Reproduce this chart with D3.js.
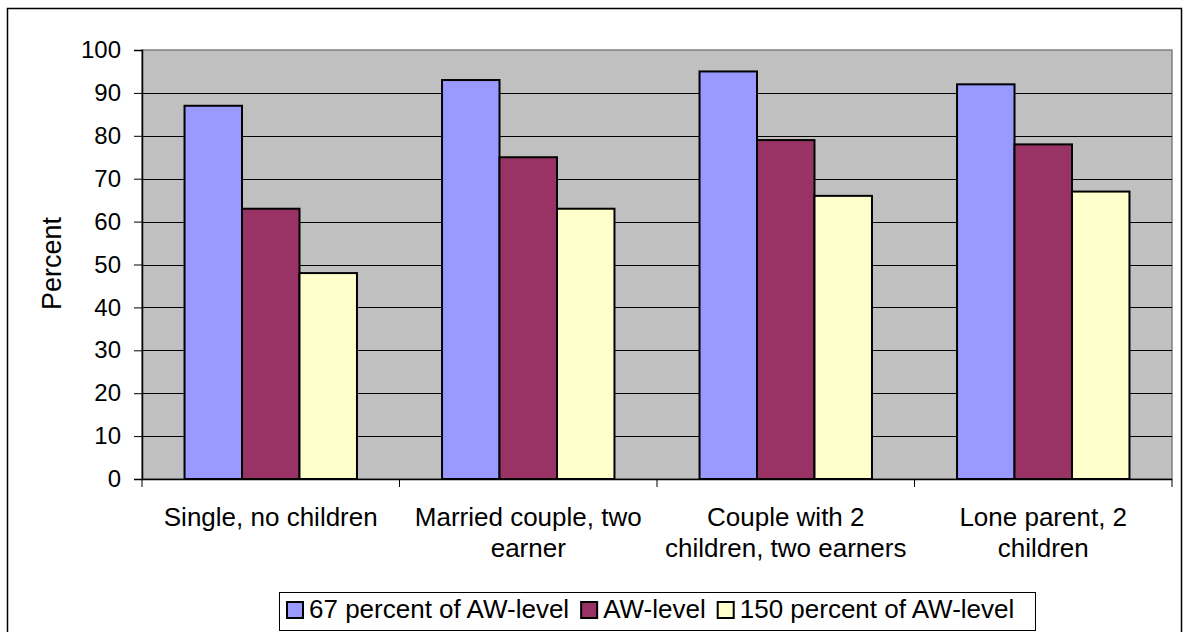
<!DOCTYPE html>
<html>
<head>
<meta charset="utf-8">
<script src="https://cdn.jsdelivr.net/npm/d3@7"></script>
<style>
  body { margin: 0; background: #fff; }
  text { font-family: "Liberation Sans", Arial, sans-serif; fill: #000; }
</style>
</head>
<body>
<div id="chart"></div>
<script>
// data
const categories = [
  ["Single, no children"],
  ["Married couple, two", "earner"],
  ["Couple with 2", "children, two earners"],
  ["Lone parent, 2", "children"]
];
const seriesNames = ["67 percent of AW-level", "AW-level", "150 percent of AW-level"];
const seriesColors = ["#9999ff", "#993366", "#ffffcc"];
const low = [87, 93, 95, 92];
const mid = [63, 75, 79, 78];
const high = [48, 63, 66, 67];
const yTicks = [0, 10, 20, 30, 40, 50, 60, 70, 80, 90, 100];

const W = 1183, H = 632;
const plot = {left: 142, top: 50, right: 1172, bottom: 479};
const font = '"Liberation Sans", Arial, sans-serif';

const svg = d3.select('#chart').append('svg')
  .attr('width', W).attr('height', H);

// outer chart border
svg.append('rect')
  .attr('x', 7.5).attr('y', 8.5)
  .attr('width', W - 9).attr('height', H + 10)
  .attr('fill', '#fff').attr('stroke', '#000').attr('stroke-width', 1.5);

const idx = d3.range(categories.length);
const x0 = d3.scaleBand().domain(idx).range([plot.left, plot.right]).padding(0);
const y = d3.scaleLinear().domain([0, 100]).range([plot.bottom, plot.top]);

// inner bars: gap of ~148% of bar width split across both sides
const barW = x0.bandwidth() / (3 + 1.48);
const x1 = d3.scaleBand().domain([0, 1, 2])
  .range([0, barW * 3]);

// plot area
svg.append('rect')
  .attr('x', plot.left).attr('y', plot.top)
  .attr('width', plot.right - plot.left).attr('height', plot.bottom - plot.top)
  .attr('fill', '#c0c0c0').attr('stroke', '#808080').attr('stroke-width', 1.5);

// gridlines
svg.append('g').selectAll('line')
  .data(yTicks.filter(d => d > 0 && d < 100))
  .join('line')
  .attr('x1', plot.left).attr('x2', plot.right)
  .attr('y1', d => Math.round(y(d)) + 0.5).attr('y2', d => Math.round(y(d)) + 0.5)
  .attr('stroke', '#000').attr('stroke-width', 1);

// bars
const series = [low, mid, high];
const groups = svg.append('g').selectAll('g')
  .data(idx)
  .join('g')
  .attr('transform', i => `translate(${x0(i) + (x0.bandwidth() - barW * 3) / 2},0)`);

groups.selectAll('rect')
  .data(i => series.map((s, k) => ({k, v: s[i]})))
  .join('rect')
  .attr('x', d => x1(d.k))
  .attr('y', d => y(d.v))
  .attr('width', x1.bandwidth())
  .attr('height', d => y(0) - y(d.v))
  .attr('fill', d => seriesColors[d.k])
  .attr('stroke', '#000').attr('stroke-width', 2);

// y axis
const yAxis = d3.axisLeft(y).tickValues(yTicks).tickSize(8).tickPadding(13);
svg.append('g')
  .attr('transform', `translate(${plot.left},0)`)
  .call(yAxis)
  .call(g => g.select('.domain').attr('stroke', '#000').attr('stroke-width', 1.5))
  .call(g => g.selectAll('.tick line').attr('stroke', '#000'))
  .call(g => g.selectAll('.tick text').style('font-size', '24px')
    .style('font-family', font).attr('fill', '#000'));

// x axis: ticks at category boundaries
svg.append('line')
  .attr('x1', plot.left).attr('x2', plot.right)
  .attr('y1', plot.bottom + 0.5).attr('y2', plot.bottom + 0.5)
  .attr('stroke', '#000').attr('stroke-width', 1.5);
svg.append('g').selectAll('line')
  .data(idx.concat([categories.length]))
  .join('line')
  .attr('x1', i => i < categories.length ? x0(i) : plot.right)
  .attr('x2', i => i < categories.length ? x0(i) : plot.right)
  .attr('y1', plot.bottom).attr('y2', plot.bottom + 8)
  .attr('stroke', '#000');

// category labels
svg.append('g').selectAll('text')
  .data(idx)
  .join('text')
  .attr('text-anchor', 'middle')
  .style('font-size', '26px')
  .each(function(i) {
    const t = d3.select(this);
    categories[i].forEach((line, j) => {
      t.append('tspan')
        .attr('x', x0(i) + x0.bandwidth() / 2)
        .attr('y', 526 + j * 31)
        .text(line);
    });
  });

// y title
svg.append('text')
  .attr('transform', `translate(61,${(plot.top + plot.bottom) / 2 - 1}) rotate(-90)`)
  .attr('text-anchor', 'middle')
  .style('font-size', '27px')
  .text('Percent');

// legend
const legend = svg.append('g');
legend.append('rect')
  .attr('x', 279.5).attr('y', 592.5).attr('width', 756).attr('height', 38)
  .attr('fill', '#fff').attr('stroke', '#000').attr('stroke-width', 1);
let lx = 287;
seriesNames.forEach((name, k) => {
  legend.append('rect')
    .attr('x', lx).attr('y', 602).attr('width', 16).attr('height', 16)
    .attr('fill', seriesColors[k]).attr('stroke', '#000').attr('stroke-width', 2);
  const t = legend.append('text')
    .attr('x', lx + 22).attr('y', 618)
    .style('font-size', '26px')
    .text(name);
  lx += 22 + t.node().getComputedTextLength() + 12;
});
</script>
</body>
</html>
